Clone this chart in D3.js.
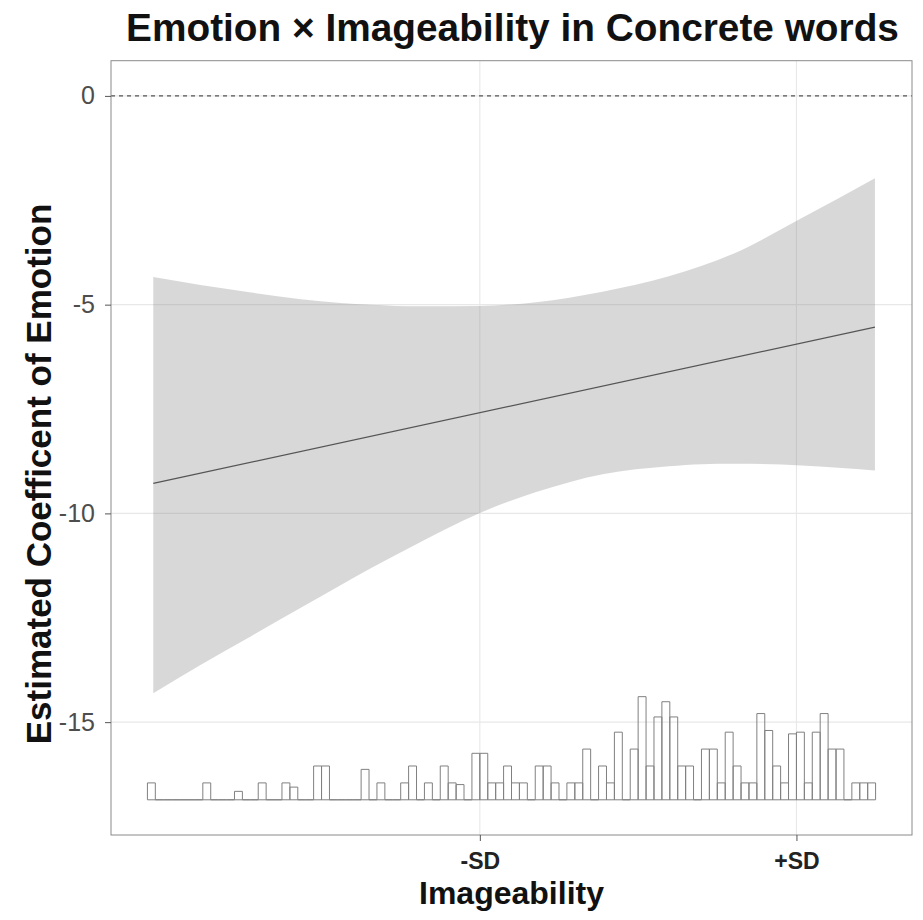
<!DOCTYPE html>
<html>
<head>
<meta charset="utf-8">
<script src="https://cdn.jsdelivr.net/npm/d3@7"></script>
<style>
  body { margin: 0; background: #fff; }
  svg { display: block; }
  text { font-family: "Liberation Sans", Arial, Helvetica, sans-serif; }
</style>
</head>
<body>
<svg id="chart" width="923" height="920"></svg>
<script>
// ---------------- DATA ----------------
const titleText = "Emotion × Imageability in Concrete words";
const xTitleText = "Imageability";
const yTitleText = "Estimated Coefficent of Emotion";

// x ticks (standardised imageability: mean ± 1 SD)
const xTickValues = [-1, 1];
const xTickLabels = ["-SD", "+SD"];
// y ticks
const yTickValues = [0, -5, -10, -15];
const yTickLabels = ["0", "-5", "-10", "-15"];

// confidence band
const bandX     = [-3.063, -2.765, -2.445, -2.131, -1.880, -1.692, -1.377, -1.000, -0.644, -0.225, 0.194, 0.403, 0.613, 1.031, 1.496];
const bandUpper = [-4.34, -4.53, -4.71, -4.87, -4.96, -5.00, -5.04, -5.03, -4.94, -4.69, -4.32, -4.07, -3.76, -2.93, -1.97];
const bandLower = [-14.31, -13.63, -12.94, -12.26, -11.72, -11.32, -10.69, -9.99, -9.49, -9.06, -8.87, -8.82, -8.81, -8.85, -8.97];

// estimated coefficient line
const lineX = [-3.063, 1.496];
const lineY = [-9.28, -5.54];

// histogram of the conditioning variable
const histStart = -3.10;
const histBinWidth = 0.05;
const histCounts = [
  1, 0, 0, 0, 0, 0, 0, 1, 0, 0,
  0, 0.5, 0, 0, 1, 0, 0, 1, 0.75, 0,
  0, 2, 2, 0, 0, 0, 0, 1.8, 0, 1,
  0, 0, 1, 2, 0, 1, 0, 2, 1, 0.9,
  0, 2.75, 2.75, 1, 1, 2, 1, 1, 0, 2,
  2, 1, 0, 1, 1, 3, 0, 2, 1, 4,
  0, 3, 6.1, 2, 4.9, 5.8, 4.9, 2, 2, 0,
  3, 3, 1, 4, 2, 1, 1, 5.1, 4.1, 2,
  1, 3.9, 4, 1, 4, 5.1, 3, 3, 0, 1,
  1, 1
];
const histBase = -16.86;   // y value of histogram baseline
const histUnit = 0.405;    // y units per count

// ---------------- LAYOUT ----------------
const panel = { left: 111, right: 912, top: 60.7, bottom: 835 };

const svg = d3.select("#chart");

const xLo = histStart, xHi = histStart + histBinWidth * histCounts.length;
const xPad = (xHi - xLo) * 0.05;
const x = d3.scaleLinear().domain([xLo - xPad, xHi + xPad]).range([panel.left, panel.right]);

const yLo = histBase, yHi = 0;
const yPad = (yHi - yLo) * 0.05;
const y = d3.scaleLinear().domain([yLo - yPad, yHi + yPad]).range([panel.bottom, panel.top]);

// panel background
svg.append("rect")
  .attr("x", panel.left).attr("y", panel.top)
  .attr("width", panel.right - panel.left).attr("height", panel.bottom - panel.top)
  .attr("fill", "#fff");

// grid
const grid = svg.append("g").attr("stroke", "#e8e8e8").attr("stroke-width", 1.1);
grid.selectAll("line.gy").data(yTickValues).join("line")
  .attr("x1", panel.left).attr("x2", panel.right)
  .attr("y1", d => y(d)).attr("y2", d => y(d));
grid.selectAll("line.gx").data(xTickValues).join("line")
  .attr("y1", panel.top).attr("y2", panel.bottom)
  .attr("x1", d => x(d)).attr("x2", d => x(d));

// ribbon
const bandData = bandX.map((v, i) => ({ x: v, lo: bandLower[i], hi: bandUpper[i] }));
const area = d3.area()
  .x(d => x(d.x)).y0(d => y(d.lo)).y1(d => y(d.hi))
  .curve(d3.curveMonotoneX);
svg.append("path").datum(bandData)
  .attr("d", area)
  .attr("fill", "#7f7f7f").attr("fill-opacity", 0.3);

// line
const lineData = lineX.map((v, i) => ({ x: v, y: lineY[i] }));
svg.append("path").datum(lineData)
  .attr("d", d3.line().x(d => x(d.x)).y(d => y(d.y)))
  .attr("fill", "none").attr("stroke", "#555").attr("stroke-width", 1.2);

// zero line
svg.append("line")
  .attr("x1", panel.left).attr("x2", panel.right)
  .attr("y1", y(0)).attr("y2", y(0))
  .attr("stroke", "#555").attr("stroke-width", 1.3)
  .attr("stroke-dasharray", "4,4");

// histogram
svg.append("g").selectAll("path").data(histCounts).join("path")
  .attr("d", (c, i) => {
    const x0 = x(histStart + i * histBinWidth);
    const x1 = x(histStart + (i + 1) * histBinWidth);
    const yb = y(histBase);
    const yt = y(histBase + c * histUnit);
    return `M${x0},${yb}V${yt}H${x1}V${yb}Z`;
  })
  .attr("fill", "none").attr("stroke", "#808080").attr("stroke-width", 1);

// panel border
svg.append("rect")
  .attr("x", panel.left).attr("y", panel.top)
  .attr("width", panel.right - panel.left).attr("height", panel.bottom - panel.top)
  .attr("fill", "none").attr("stroke", "#8a8a8a").attr("stroke-width", 1);

// axes
const yAxis = d3.axisLeft(y).tickValues(yTickValues)
  .tickFormat((d, i) => yTickLabels[i]).tickSize(6).tickPadding(10);
const gy = svg.append("g").attr("transform", `translate(${panel.left},0)`).call(yAxis);
gy.select(".domain").remove();
gy.selectAll(".tick line").attr("stroke", "#555");
gy.selectAll(".tick text").attr("font-size", 25).attr("fill", "#4d4d4d")
  .attr("font-family", "'Liberation Sans', Arial, sans-serif");

const xAxis = d3.axisBottom(x).tickValues(xTickValues)
  .tickFormat((d, i) => xTickLabels[i]).tickSize(6).tickPadding(12);
const gx = svg.append("g").attr("transform", `translate(0,${panel.bottom})`).call(xAxis);
gx.select(".domain").remove();
gx.selectAll(".tick line").attr("stroke", "#555");
gx.selectAll(".tick text").attr("font-size", 23).attr("font-weight", "bold").attr("fill", "#222")
  .attr("font-family", "'Liberation Sans', Arial, sans-serif");

// titles
const cx = (panel.left + panel.right) / 2;
svg.append("text").attr("x", cx + 1).attr("y", 41)
  .attr("text-anchor", "middle").attr("font-size", 38.8).attr("font-weight", "bold")
  .attr("fill", "#111").text(titleText);

svg.append("text").attr("x", cx).attr("y", 904)
  .attr("text-anchor", "middle").attr("font-size", 32).attr("font-weight", "bold")
  .attr("fill", "#111").text(xTitleText);

svg.append("text")
  .attr("transform", `translate(51,474) rotate(-90)`)
  .attr("text-anchor", "middle").attr("font-size", 35).attr("font-weight", "bold")
  .attr("fill", "#111").text(yTitleText);
</script>
</body>
</html>
